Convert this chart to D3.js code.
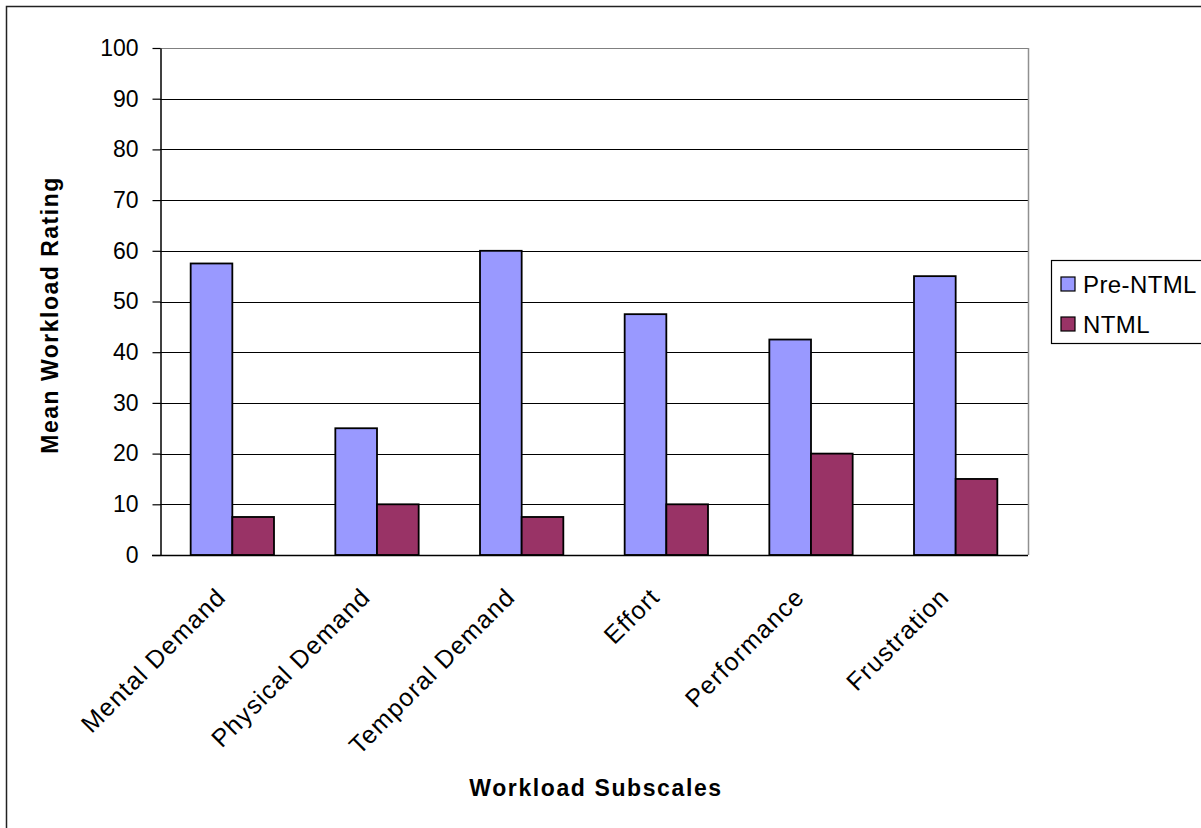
<!DOCTYPE html>
<html>
<head>
<meta charset="utf-8">
<script src="https://cdn.jsdelivr.net/npm/d3@7/dist/d3.min.js"></script>
<style>
  html, body { margin: 0; padding: 0; background: #fff; }
  svg { display: block; font-family: "Liberation Sans", Arial, sans-serif; }
</style>
</head>
<body>
<svg id="chart" width="1201" height="828"></svg>
<script>
// Workload subscale ratings, before and with NTML
const categories = ["Mental Demand", "Physical Demand", "Temporal Demand", "Effort", "Performance", "Frustration"];
const seriesNames = ["Pre-NTML", "NTML"];
const preNTML = [57.5, 25, 60, 47.5, 42.5, 55];
const ntml = [7.5, 10, 7.5, 10, 20, 15];
const yTicks = [0, 10, 20, 30, 40, 50, 60, 70, 80, 90, 100];
const seriesColors = ["#9999FF", "#993366"];

const seriesValues = [preNTML, ntml];

const svg = d3.select("#chart");

const plot = { left: 160, right: 1028, top: 48, bottom: 555 };

// outer chart frame (extends past the right and bottom edges)
svg.append("rect")
  .attr("x", 6.5).attr("y", 6.5)
  .attr("width", 1400).attr("height", 1000)
  .attr("fill", "none").attr("stroke", "#222").attr("stroke-width", 1.5);

const x0 = d3.scaleBand()
  .domain(categories)
  .range([plot.left, plot.right])
  .paddingInner(0.424)
  .paddingOuter(0.212);

const x1 = d3.scaleBand()
  .domain(seriesNames)
  .range([0, x0.bandwidth()]);

const y = d3.scaleLinear().domain([0, 100]).range([plot.bottom, plot.top]);

// gridlines
svg.append("g")
  .selectAll("line")
  .data(yTicks.filter(t => t > 0))
  .join("line")
  .attr("x1", plot.left).attr("x2", plot.right)
  .attr("y1", d => Math.round(y(d)) + 0.5).attr("y2", d => Math.round(y(d)) + 0.5)
  .attr("stroke", d => d === 100 ? "#808080" : "#000")
  .attr("stroke-width", 1);

// right edge of the plot area
svg.append("line")
  .attr("x1", plot.right + 0.5).attr("x2", plot.right + 0.5)
  .attr("y1", plot.top).attr("y2", plot.bottom)
  .attr("stroke", "#909090").attr("stroke-width", 1.5);

// bars
const groups = svg.append("g")
  .selectAll("g")
  .data(categories)
  .join("g")
  .attr("transform", d => `translate(${x0(d)},0)`);

groups.selectAll("rect")
  .data((c, i) => seriesNames.map((s, k) => ({ s, k, v: seriesValues[k][i] })))
  .join("rect")
  .attr("x", d => x1(d.s))
  .attr("width", x1.bandwidth())
  .attr("y", d => y(d.v))
  .attr("height", d => y(0) - y(d.v))
  .attr("fill", d => seriesColors[d.k])
  .attr("stroke", "#000")
  .attr("stroke-width", 1.8);

// y axis
const yAxis = d3.axisLeft(y)
  .tickValues(yTicks)
  .tickSize(8)
  .tickPadding(14)
  .tickSizeOuter(0);

const yg = svg.append("g")
  .attr("transform", `translate(${plot.left + 0.5},0)`)
  .call(yAxis);
yg.select(".domain").attr("stroke", "#000").attr("stroke-width", 1.5);
yg.selectAll(".tick line").attr("stroke", "#000").attr("stroke-width", 1.2);
yg.selectAll(".tick text")
  .attr("font-size", 23)
  .attr("font-family", "Liberation Sans, Arial, sans-serif")
  .attr("fill", "#000");

// x axis
const xAxis = d3.axisBottom(x0).tickSize(0).tickPadding(0).tickSizeOuter(0);
const xg = svg.append("g")
  .attr("transform", `translate(0,${plot.bottom + 0.5})`)
  .call(xAxis);
xg.select(".domain").remove();
svg.append("line")
  .attr("x1", plot.left - 8).attr("x2", plot.right)
  .attr("y1", plot.bottom + 0.5).attr("y2", plot.bottom + 0.5)
  .attr("stroke", "#000").attr("stroke-width", 1.5);

xg.selectAll(".tick text")
  .attr("font-size", 25)
  .attr("letter-spacing", 1.2)
  .attr("font-family", "Liberation Sans, Arial, sans-serif")
  .attr("fill", "#000")
  .attr("text-anchor", "end")
  .attr("dy", 0)
  .attr("y", 0)
  .attr("transform", "translate(-5,43) rotate(-45)");

// axis titles
svg.append("text")
  .attr("x", 596).attr("y", 796)
  .attr("text-anchor", "middle")
  .attr("font-size", 23).attr("font-weight", "bold")
  .attr("letter-spacing", 1.6)
  .text("Workload Subscales");

svg.append("text")
  .attr("transform", "translate(58,315) rotate(-90)")
  .attr("text-anchor", "middle")
  .attr("font-size", 23).attr("font-weight", "bold")
  .attr("letter-spacing", 1.5)
  .text("Mean Workload Rating");

// legend
const legend = svg.append("g");
legend.append("rect")
  .attr("x", 1051.5).attr("y", 260.5)
  .attr("width", 200).attr("height", 83)
  .attr("fill", "#fff").attr("stroke", "#000").attr("stroke-width", 1.2);

const items = legend.selectAll("g.item")
  .data(seriesNames)
  .join("g")
  .attr("class", "item")
  .attr("transform", (d, i) => `translate(1061,${277 + i * 40})`);

items.append("rect")
  .attr("width", 14).attr("height", 14)
  .attr("fill", (d, i) => seriesColors[i])
  .attr("stroke", "#000").attr("stroke-width", 1.2);

items.append("text")
  .attr("x", 22).attr("y", 7)
  .attr("dy", "0.36em")
  .attr("font-size", 24)
  .attr("letter-spacing", 0.4)
  .text(d => d);
</script>
</body>
</html>
